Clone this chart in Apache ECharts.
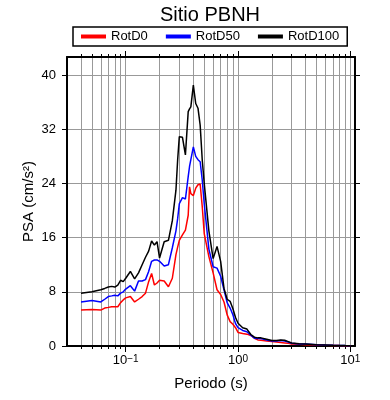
<!DOCTYPE html>
<html>
<head>
<meta charset="utf-8">
<script src="https://cdn.jsdelivr.net/npm/echarts@6/dist/echarts.min.js"></script>
<style>html,body{margin:0;padding:0;background:#fff}#chart{width:390px;height:400px}</style>
</head>
<body>
<div id="chart"></div>
<script>
// periodos (s)
var periods = [0.04,0.05,0.06,0.065,0.07,0.075,0.08,0.085,0.09,0.095,
  0.1,0.11,0.12,0.13,0.14,0.15,0.16,0.17,0.18,0.19,
  0.2,0.22,0.24,0.26,0.28,0.29,0.3,0.32,0.34,0.36,
  0.37,0.38,0.4,0.42,0.44,0.46,0.48,0.5,0.55,0.6,
  0.65,0.7,0.75,0.8,0.85,0.9,0.95,1.0,1.1,1.2,
  1.3,1.4,1.5,1.6,1.8,2.0,2.2,2.4,2.6,2.8,
  3.0,3.5,4,5,6,7,8,9,10];
var rotD0 = [5.3,5.4,5.3,5.6,5.7,5.8,5.8,5.8,6.4,6.8,
  7.1,7.3,6.5,6.9,7.3,7.8,9.5,10.7,9.0,9.3,
  9.7,9.6,8.75,10.0,13.5,14.6,15.6,16.4,17.1,19.3,
  23.5,22.5,22.2,23.3,23.8,23.9,20.6,16.6,13.2,10.8,
  8.3,7.6,6.5,4.6,3.6,3.2,2.7,2.0,1.85,1.75,
  1.55,1.15,0.9,0.85,0.75,0.65,0.6,0.5,0.45,0.4,
  0.3,0.25,0.2,0.15,0.1,0.08,0.06,0.05,0.04];
var rotD50 = [6.5,6.7,6.5,6.9,7.3,7.4,7.5,7.4,7.8,8.0,
  8.4,8.9,8.1,9.6,9.6,9.8,11.0,12.5,12.7,12.7,
  12.5,11.8,12.0,14.5,17.0,18.8,21.0,21.9,21.7,25.0,
  26.5,27.5,29.4,28.0,27.5,27.2,24.5,21.0,14.3,11.7,
  11.5,10.3,8.3,6.4,5.6,4.6,3.3,2.7,2.3,2.1,
  1.6,1.15,1.1,1.1,0.9,0.75,0.75,0.8,0.75,0.6,
  0.4,0.3,0.28,0.18,0.13,0.1,0.08,0.06,0.05];
var rotD100 = [7.8,8.0,8.3,8.5,8.7,8.8,8.7,9.0,9.7,9.5,
  10.0,11.0,9.9,10.8,12.0,13.1,14.0,15.5,14.9,15.4,
  13.0,15.4,15.6,18.5,23.0,27.5,30.9,30.8,28.2,34.6,
  35.0,35.3,38.5,35.8,35.1,32.6,27.5,24.0,17.0,12.9,
  14.7,12.5,8.5,6.9,6.6,5.5,4.2,3.35,2.7,2.5,
  1.7,1.3,1.2,1.2,1.0,0.8,0.8,0.9,0.85,0.65,
  0.45,0.35,0.3,0.2,0.15,0.1,0.08,0.06,0.05];

var xDecades = [0.1, 1, 10];
var xGridTicks = [0.04,0.05,0.06,0.07,0.08,0.09,
  0.1,0.2,0.3,0.4,0.5,0.6,0.7,0.8,0.9,
  1,2,3,4,5,6,7,8,9,10];
var yTicks = [0, 8, 16, 24, 32, 40];
var yGrid = [8, 16, 24, 32, 40];

var font = "'Liberation Sans', Arial, sans-serif";

function pairs(ys) {
  return periods.map(function (p, i) { return [p, ys[i]]; });
}
function expLabel(v) {
  var e = Math.round(Math.log(v) / Math.LN10);
  return '{b|10}{s|' + (e < 0 ? '\u2212' : '') + Math.abs(e) + '}';
}

var logAxis = function (extra) {
  var base = {
    type: 'log', logBase: 10, min: 0.03, max: 11, gridIndex: 0,
    axisLine: { show: false },
    axisTick: { show: false },
    axisLabel: { show: false },
    splitLine: { show: false },
    minorTick: { show: false }
  };
  return Object.assign(base, extra);
};

var myChart = echarts.init(document.getElementById('chart'));
var option = {
  animation: false,
  backgroundColor: '#fff',
  textStyle: { fontFamily: font },
  title: {
    text: 'Sitio PBNH',
    left: 160, top: 5, padding: 0,
    textStyle: { fontSize: 20, fontWeight: 'normal', color: '#000', fontFamily: font }
  },
  legend: {
    left: 73, top: 27,
    padding: [3, 8],
    borderColor: '#000', borderWidth: 1.5,
    itemGap: 18, itemWidth: 25, itemHeight: 4,
    icon: 'rect',
    textStyle: { fontSize: 13, color: '#000', fontFamily: font },
    data: ['RotD0', 'RotD50', 'RotD100']
  },
  grid: { left: 67, right: 35, top: 57, bottom: 54 },
  xAxis: [
    logAxis({
      position: 'bottom',
      name: 'Periodo (s)', nameLocation: 'middle', nameGap: 30, nameMoveOverlap: false,
      nameTextStyle: { fontSize: 15, color: '#000', fontFamily: font },
      axisLine: { show: true, lineStyle: { color: '#000', width: 2 } },
      axisTick: { show: true, length: 3, customValues: xGridTicks, lineStyle: { color: '#000', width: 1 } },
      splitLine: { show: true, lineStyle: { color: '#999', width: 1 } },
      axisLabel: {
        show: true, margin: 8, customValues: xDecades,
        formatter: expLabel,
        rich: {
          b: { fontSize: 13, color: '#000', fontFamily: font },
          s: { fontSize: 10, color: '#000', fontFamily: font, verticalAlign: 'top' }
        }
      }
    }),
    logAxis({
      position: 'bottom',
      axisTick: { show: true, length: 6, customValues: xDecades, lineStyle: { color: '#000', width: 1 } }
    }),
    logAxis({
      position: 'top',
      axisLine: { show: true, lineStyle: { color: '#000', width: 2 } },
      axisTick: { show: true, length: 3, customValues: xGridTicks, lineStyle: { color: '#000', width: 1 } }
    }),
    logAxis({
      position: 'top',
      axisTick: { show: true, length: 6, customValues: xDecades, lineStyle: { color: '#000', width: 1 } }
    })
  ],
  yAxis: [
    {
      type: 'value', min: 0, max: 42.66, position: 'left',
      name: 'PSA (cm/s\u00b2)', nameLocation: 'middle', nameGap: 31, nameMoveOverlap: false,
      nameTextStyle: { fontSize: 15, color: '#000', fontFamily: font },
      axisLine: { show: true, lineStyle: { color: '#000', width: 2 } },
      axisTick: { show: true, length: 5, customValues: yTicks, lineStyle: { color: '#000', width: 1 } },
      axisLabel: { show: true, margin: 11, customValues: yTicks, fontSize: 13, color: '#000', fontFamily: font },
      splitLine: { show: false }
    },
    {
      type: 'value', min: 0, max: 42.66, position: 'right',
      axisLine: { show: true, lineStyle: { color: '#000', width: 2 } },
      axisTick: { show: true, length: 5, customValues: yGrid, lineStyle: { color: '#000', width: 1 } },
      axisLabel: { show: false },
      splitLine: { show: true, lineStyle: { color: '#999', width: 1 } }
    }
  ],
  series: [
    { name: 'RotD0', type: 'line', data: pairs(rotD0), showSymbol: false, color: '#ff0000', lineStyle: { width: 1.5 } },
    { name: 'RotD50', type: 'line', data: pairs(rotD50), showSymbol: false, color: '#0000ff', lineStyle: { width: 1.5 } },
    { name: 'RotD100', type: 'line', data: pairs(rotD100), showSymbol: false, color: '#000000', lineStyle: { width: 1.5 } }
  ]
};
myChart.setOption(option);
</script>
</body>
</html>
